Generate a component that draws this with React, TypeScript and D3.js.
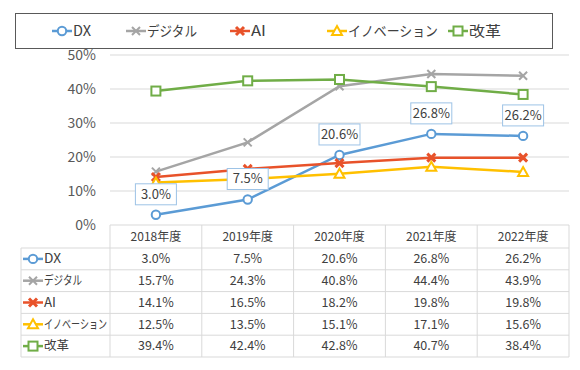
import { scaleLinear, scaleBand, line } from 'd3'

const YEARS = ['2018年度', '2019年度', '2020年度', '2021年度', '2022年度']
const SERIES_NAMES = ['DX', 'デジタル', 'AI', 'イノベーション', '改革']
const DX = [3.0, 7.5, 20.6, 26.8, 26.2]
const DIGITAL = [15.7, 24.3, 40.8, 44.4, 43.9]
const AI = [14.1, 16.5, 18.2, 19.8, 19.8]
const INNOVATION = [12.5, 13.5, 15.1, 17.1, 15.6]
const REFORM = [39.4, 42.4, 42.8, 40.7, 38.4]
const Y_TICKS = [0, 10, 20, 30, 40, 50]

const COLORS = ['#5b9bd5', '#a5a5a5', '#e8522a', '#ffc000', '#70ad47']
const MARKERS = ['circle', 'x', 'xbold', 'triangle', 'square']
const VALUES = [DX, DIGITAL, AI, INNOVATION, REFORM]

const FONT = '"Noto Sans CJK JP", "Noto Sans", sans-serif'

function Marker({ type, x, y, color }: { type: string; x: number; y: number; color: string }) {
  if (type === 'circle')
    return <circle cx={x} cy={y} r={4.2} fill='#fff' stroke={color} strokeWidth={2} />
  if (type === 'square')
    return <rect x={x - 4.5} y={y - 4.5} width={9} height={9} fill='#fff' stroke={color} strokeWidth={2} />
  if (type === 'triangle')
    return (
      <path
        d={`M${x},${y - 5} L${x + 5},${y + 4} L${x - 5},${y + 4} Z`}
        fill='#fff'
        stroke={color}
        strokeWidth={2}
      />
    )
  const w = type === 'xbold' ? 3 : 2
  return (
    <path
      d={`M${x - 4},${y - 4} L${x + 4},${y + 4} M${x - 4},${y + 4} L${x + 4},${y - 4}`}
      stroke={color}
      strokeWidth={w}
    />
  )
}

export default function App() {
  const width = 580
  const height = 370
  const plot = { left: 110, right: 569, top: 55, bottom: 225 }
  const tableRowH = 21.8
  const headerH = 23
  const tableLeft = 21

  const xScale = scaleBand().domain(YEARS).range([plot.left, plot.right])
  const yScale = scaleLinear().domain([0, 50]).range([plot.bottom, plot.top])
  const cx = (d: string) => xScale(d)! + xScale.bandwidth() / 2

  const lineGen = line<number>()
    .x((_, i) => cx(YEARS[i]))
    .y((v) => yScale(v))

  // legend layout (Meiryo-like narrow text widths)
  const legendX = [52, 126, 230, 327, 448]
  const legendTextW = [18, 50, 15, 90, 32]
  const rowTextW = [17, 38, 12, 63, 25]
  const gridColor = '#d9d9d9'
  const rowTop = plot.bottom + headerH

  return (
    <div style={{ margin: -8 }}>
      <svg width={width} height={height} style={{ display: 'block', fontFamily: FONT }}>
        <rect width={width} height={height} fill='#fff' />

        {/* Legend */}
        <rect x={15.5} y={13.5} width={537} height={35} fill='#fff' stroke='#595959' strokeWidth={1} />
        {SERIES_NAMES.map((name, i) => (
          <g key={name} transform={`translate(${legendX[i]}, 31)`}>
            <line x1={0} x2={20} stroke={COLORS[i]} strokeWidth={2.5} />
            <Marker type={MARKERS[i]} x={10} y={0} color={COLORS[i]} />
            <text
              x={21}
              dy='0.35em'
              fontSize={14}
              fill='#404040'
              textLength={legendTextW[i]}
              lengthAdjust='spacingAndGlyphs'
            >
              {name}
            </text>
          </g>
        ))}

        {/* Grid + y ticks */}
        {Y_TICKS.map((t) => (
          <g key={t} transform={`translate(0, ${yScale(t)})`}>
            <line x1={plot.left} x2={plot.right} stroke={gridColor} />
            <text x={96} dy='0.35em' textAnchor='end' fontSize={14} fill='#595959'>
              {t}%
            </text>
          </g>
        ))}

        {/* Table */}
        {YEARS.map((y) => (
          <text
            key={y}
            x={cx(y)}
            y={plot.bottom + headerH / 2}
            dy='0.35em'
            textAnchor='middle'
            fontSize={12}
            fill='#404040'
          >
            {y}
          </text>
        ))}
        {[0, 1, 2, 3, 4, 5].map((r) => (
          <line
            key={r}
            x1={tableLeft}
            x2={plot.right}
            y1={rowTop + r * tableRowH}
            y2={rowTop + r * tableRowH}
            stroke={gridColor}
          />
        ))}
        <line x1={tableLeft} x2={tableLeft} y1={rowTop} y2={rowTop + 5 * tableRowH} stroke={gridColor} />
        {[...YEARS.map((y) => xScale(y)!), plot.right].map((x, i) => (
          <line key={i} x1={x} x2={x} y1={plot.bottom} y2={rowTop + 5 * tableRowH} stroke={gridColor} />
        ))}
        {SERIES_NAMES.map((name, i) => {
          const ry = rowTop + i * tableRowH + tableRowH / 2
          return (
            <g key={name}>
              <line x1={23} x2={43} y1={ry} y2={ry} stroke={COLORS[i]} strokeWidth={2.5} />
              <Marker type={MARKERS[i]} x={33} y={ry} color={COLORS[i]} />
              <text
                x={44}
                y={ry}
                dy='0.35em'
                fontSize={12.5}
                fill='#404040'
                textLength={rowTextW[i]}
                lengthAdjust='spacingAndGlyphs'
              >
                {name}
              </text>
              {VALUES[i].map((v, j) => (
                <text
                  key={j}
                  x={cx(YEARS[j])}
                  y={ry}
                  dy='0.35em'
                  textAnchor='middle'
                  fontSize={12.5}
                  fill='#404040'
                >
                  {v.toFixed(1)}%
                </text>
              ))}
            </g>
          )
        })}

        {/* Lines */}
        {VALUES.map((vals, i) => (
          <path key={i} d={lineGen(vals)!} fill='none' stroke={COLORS[i]} strokeWidth={2.5} />
        ))}
        {VALUES.map((vals, i) =>
          vals.map((v, j) => (
            <Marker key={`${i}-${j}`} type={MARKERS[i]} x={cx(YEARS[j])} y={yScale(v)} color={COLORS[i]} />
          ))
        )}

        {/* DX data labels */}
        {DX.map((v, j) => {
          const x = cx(YEARS[j])
          const y = yScale(v) - 21
          return (
            <g key={j}>
              <rect x={x - 20.5} y={y - 10} width={41} height={21} fill='#fff' stroke='#9dc3e6' />
              <text x={x} y={y} dy='0.38em' textAnchor='middle' fontSize={13} fill='#404040'>
                {v.toFixed(1)}%
              </text>
            </g>
          )
        })}
      </svg>
    </div>
  )
}
